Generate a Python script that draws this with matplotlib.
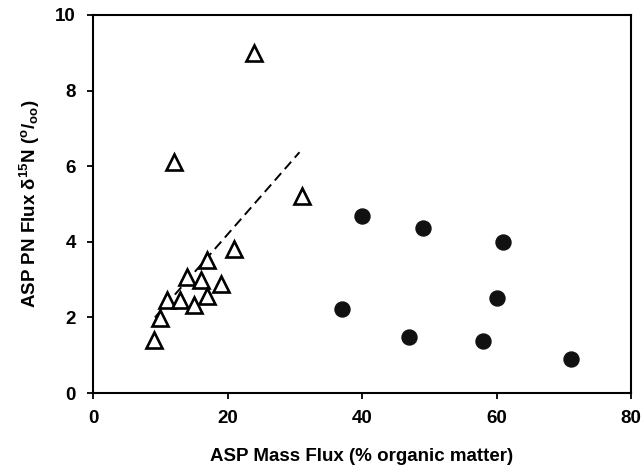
import matplotlib
matplotlib.use("Agg")
import matplotlib.pyplot as plt

plt.rcParams['font.family'] = ['Liberation Sans', 'DejaVu Sans']
plt.rcParams['font.weight'] = 'bold'
plt.rcParams['mathtext.fontset'] = 'custom'
plt.rcParams['mathtext.rm'] = 'Liberation Sans:bold'
plt.rcParams['mathtext.bf'] = 'Liberation Sans:bold'
plt.rcParams['mathtext.it'] = 'Liberation Sans:bold'

# Open triangles
tri_x = [24, 12, 31, 21, 17, 14, 16, 19, 17, 11, 13, 15, 10, 9]
tri_y = [9.0, 6.1, 5.2, 3.8, 3.52, 3.07, 3.0, 2.88, 2.56, 2.47, 2.47, 2.33, 1.98, 1.41]

# Filled circles
circ_x = [40, 49, 61, 37, 60, 47, 58, 71]
circ_y = [4.69, 4.37, 3.99, 2.21, 2.51, 1.47, 1.38, 0.89]

# Dashed regression line endpoints
fit_x = [9.2, 30.7]
fit_y = [2.0, 6.37]

xticks = [0, 20, 40, 60, 80]
yticks = [0, 2, 4, 6, 8, 10]

fig = plt.figure(figsize=(6.42, 4.70), dpi=100)
ax = fig.add_axes([0.1449, 0.1638, 0.8381, 0.8043])

ax.plot(fit_x, fit_y, linestyle=(0, (5, 2.8)), color='black', lw=1.4, zorder=1)
ax.plot(tri_x, tri_y, linestyle='none', marker='^', markersize=11.5,
        markerfacecolor='white', markeredgecolor='black', markeredgewidth=1.9, zorder=3)
ax.plot(circ_x, circ_y, linestyle='none', marker='o', markersize=10.8,
        markerfacecolor='#111111', markeredgecolor='#111111', zorder=3)

ax.set_xlim(0, 80)
ax.set_ylim(0, 10)
ax.set_xticks(xticks)
ax.set_yticks(yticks)
ax.tick_params(direction='out', length=4.5, width=1.3, labelsize=13.5, pad=8)
for lab in ax.get_xticklabels() + ax.get_yticklabels():
    lab.set_fontweight('bold')
for s in ax.spines.values():
    s.set_linewidth(1.5)

ax.set_xlabel('ASP Mass Flux (% organic matter)', fontsize=13.5, fontweight='bold', labelpad=15)
ax.set_ylabel(r'ASP PN Flux δ$^{15}$N ($^{o}$/$_{oo}$)', fontsize=13.5, fontweight='bold', labelpad=9)

fig.savefig('out.png', dpi=100)
